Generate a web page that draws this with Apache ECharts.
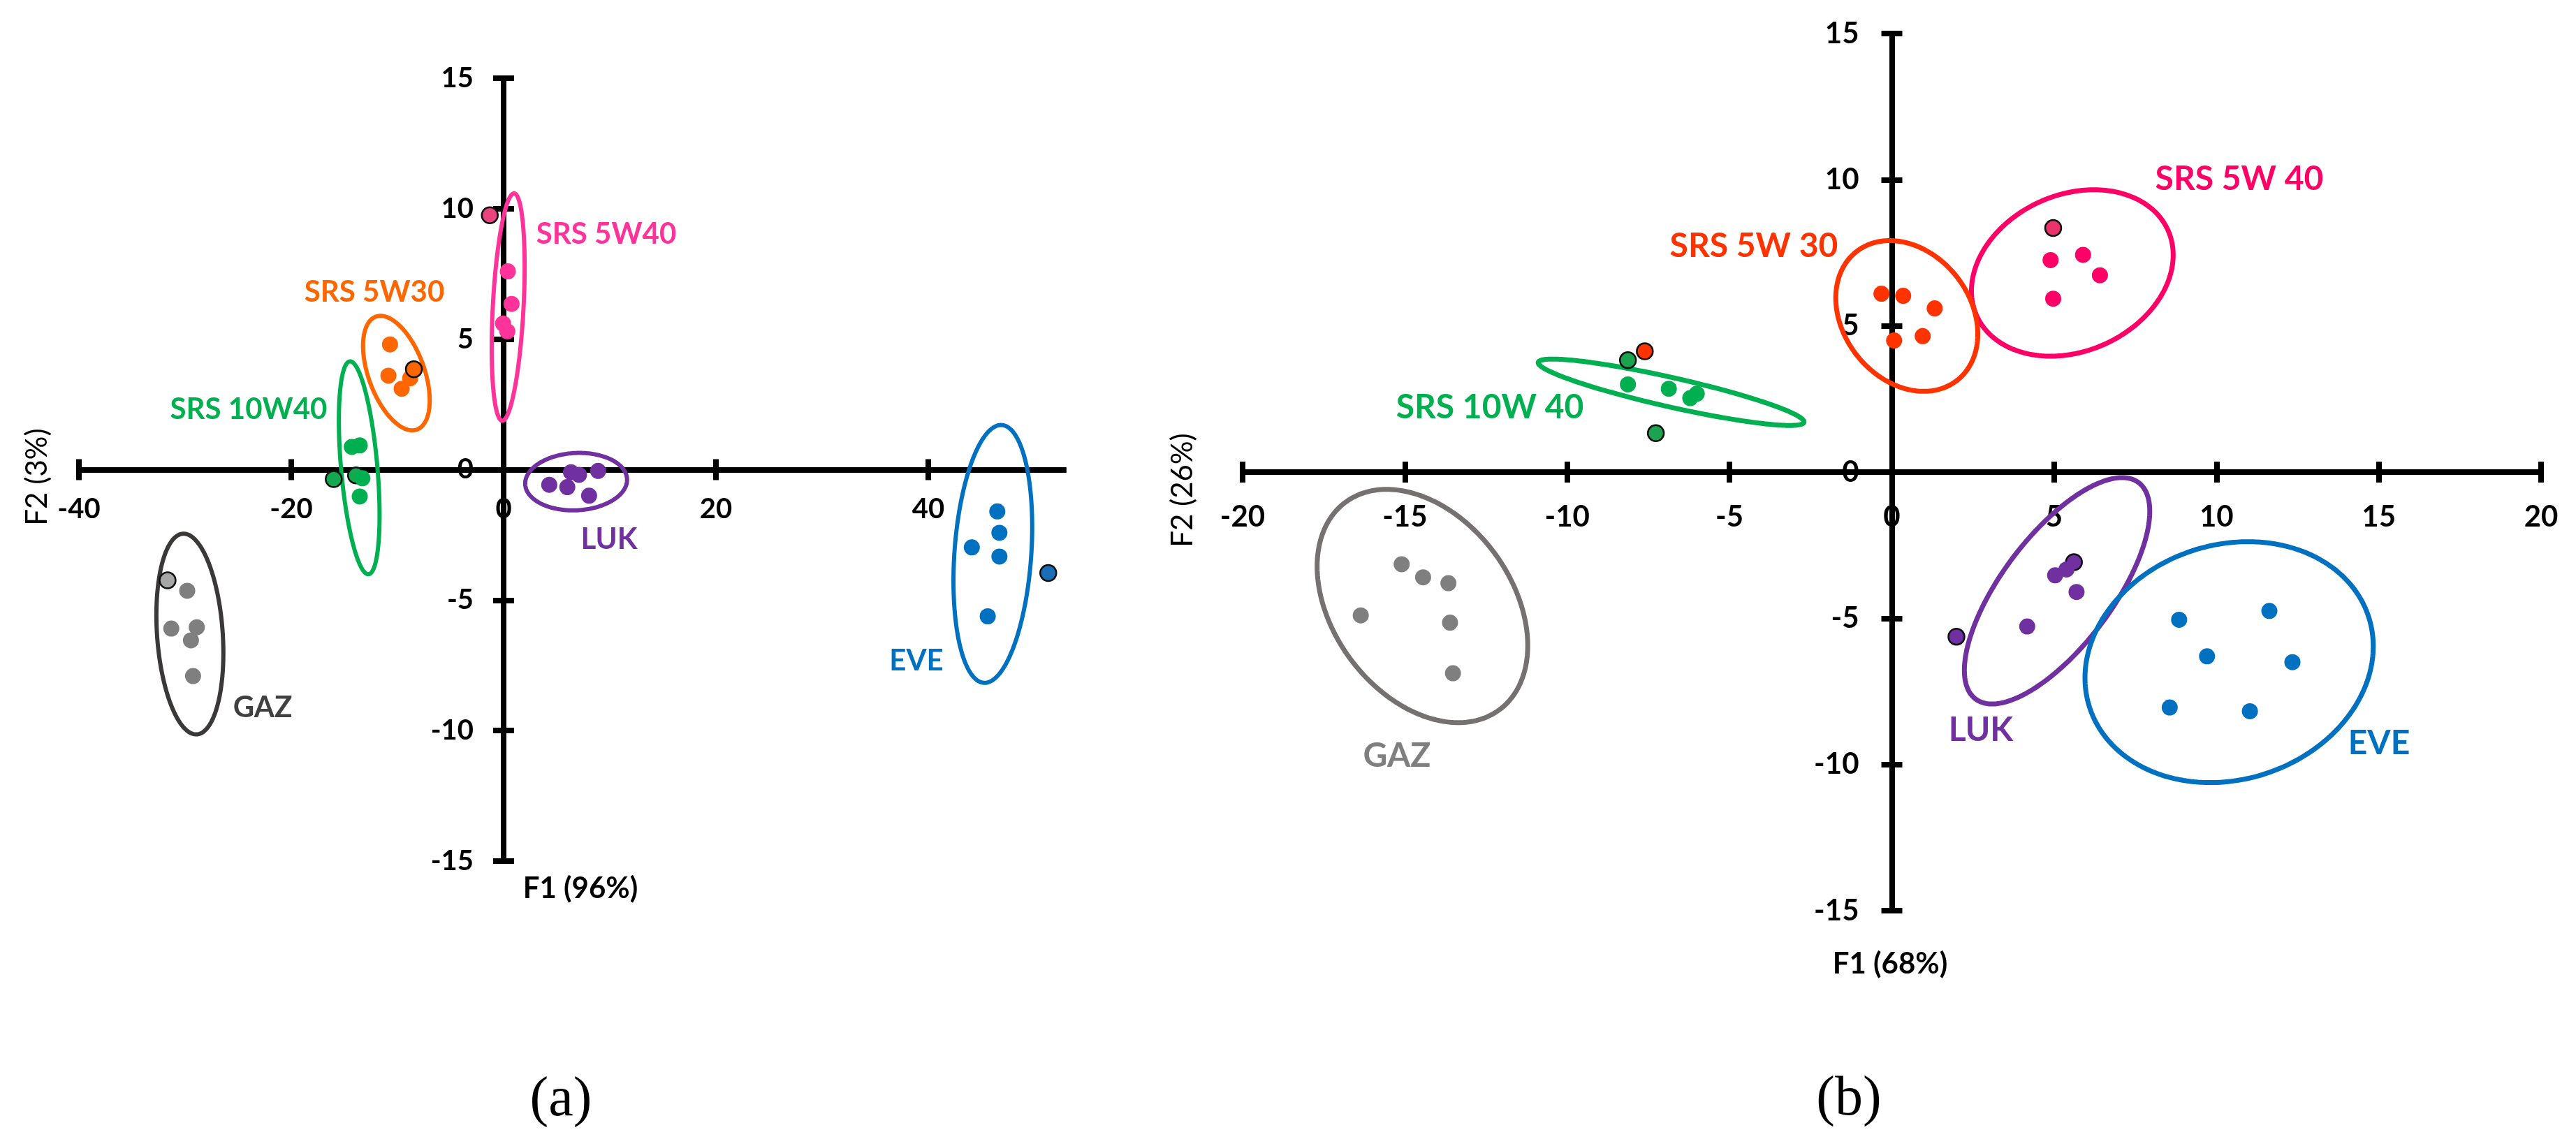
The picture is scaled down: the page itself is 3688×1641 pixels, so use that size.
<!DOCTYPE html>
<html>
<head>
<meta charset="utf-8">
<script src="https://cdn.jsdelivr.net/npm/echarts@6/dist/echarts.min.js"></script>
<style>
html,body{margin:0;padding:0;background:#fff;}
#chart{width:3688px;height:1641px;}
</style>
</head>
<body>
<div id="chart"></div>
<script>
// ---------------- DATA ----------------
// Panel (a): F1 (96%) x F2 (3%)
const leftXTicks = [-40, -20, 0, 20, 40];
const leftYTicks = [-15, -10, -5, 0, 5, 10, 15];
const leftXRange = [-40, 53];
const leftYRange = [-15, 15];

const aSRS5W40  = [[-1.3, 9.75], [0.4, 7.6], [0.75, 6.35], [-0.05, 5.6], [0.35, 5.3]];
const aSRS5W30  = [[-10.7, 4.8], [-10.85, 3.6], [-9.6, 3.1], [-8.8, 3.5], [-8.45, 3.85]];
const aSRS10W40 = [[-14.3, 0.87], [-13.55, 0.93], [-16.0, -0.36], [-13.9, -0.22], [-13.3, -0.33], [-13.55, -1.03]];
const aLUK      = [[4.3, -0.58], [6.0, -0.67], [6.35, -0.1], [7.1, -0.2], [8.9, -0.05], [8.05, -1.0]];
const aGAZ      = [[-31.65, -4.24], [-29.8, -4.64], [-31.3, -6.09], [-28.9, -6.04], [-29.45, -6.54], [-29.25, -7.91]];
const aEVE      = [[46.5, -1.6], [46.7, -2.42], [44.1, -2.98], [46.7, -3.33], [45.6, -5.62], [51.3, -3.96]];
// indices of the circled (outlined) samples
const aSRS5W40Marked = [0];
const aSRS5W30Marked = [4];
const aSRS10W40Marked = [2, 3];
const aLUKMarked = [];
const aGAZMarked = [0];
const aEVEMarked = [5];
// group ellipse centres (data units)
const aEllipseCentres = [[0.43, 6.23], [-10.1, 3.7], [-13.6, 0.07], [6.83, -0.46], [-29.55, -6.3], [46.08, -3.23]];

// Panel (b): F1 (68%) x F2 (26%)
const rightXTicks = [-20, -15, -10, -5, 0, 5, 10, 15, 20];
const rightYTicks = [-15, -10, -5, 0, 5, 10, 15];
const rightXRange = [-20, 20];
const rightYRange = [-15, 15];

const bSRS5W40  = [[4.97, 8.35], [4.89, 7.25], [5.89, 7.43], [6.41, 6.73], [4.97, 5.93]];
const bSRS5W30  = [[-0.32, 6.1], [0.35, 6.03], [1.32, 5.6], [0.07, 4.5], [0.95, 4.65], [-7.61, 4.13]];
const bSRS10W40 = [[-8.13, 3.83], [-8.13, 3.0], [-6.87, 2.85], [-6.21, 2.53], [-6.01, 2.68], [-7.27, 1.33]];
const bLUK      = [[5.61, -3.08], [5.38, -3.33], [5.03, -3.53], [5.69, -4.1], [4.17, -5.28], [1.99, -5.63]];
const bGAZ      = [[-15.1, -3.15], [-14.44, -3.6], [-13.66, -3.8], [-16.36, -4.9], [-13.61, -5.15], [-13.52, -6.88]];
const bEVE      = [[8.85, -5.05], [11.63, -4.75], [9.71, -6.3], [12.34, -6.5], [8.56, -8.05], [11.03, -8.18]];
const bSRS5W40Marked = [0];
const bSRS5W30Marked = [5];
const bSRS10W40Marked = [0, 5];
const bLUKMarked = [0, 5];
const bGAZMarked = [];
const bEVEMarked = [];
const bEllipseCentres = [[5.56, 6.81], [0.46, 5.34], [-6.80, 2.73], [5.09, -4.06], [-14.46, -4.58], [10.39, -6.5]];

// ---------------- STYLE / LAYOUT ----------------
const FONT = 'Lato, "Open Sans", sans-serif';
const colA = {p: '#ff3399', o: '#ff6600', g: '#00b050', u: '#7030a0', k: '#7f7f7f', b: '#0070c0'};
const colB = {p: '#ff0066', o: '#ff3300', g: '#00b050', u: '#7030a0', k: '#7f7f7f', b: '#0070c0'};
const aEllipseShape = [
  {a: 163, b: 22, rot: 3, color: colA.p},
  {a: 86, b: 40, rot: -20, color: colA.o},
  {a: 153, b: 26, rot: -5, color: colA.g},
  {a: 73, b: 41, rot: 87, color: colA.u},
  {a: 144, b: 47, rot: -4, color: '#3b3838'},
  {a: 185, b: 55, rot: 4, color: colA.b}
];
const bEllipseShape = [
  {a: 150, b: 112, rot: 66, color: colB.p},
  {a: 117, b: 91, rot: -38, color: colB.o},
  {a: 195, b: 21, rot: -77.3, color: colB.g},
  {a: 194, b: 79, rot: 37, color: colB.u},
  {a: 185, b: 128, rot: -36.6, color: '#767171'},
  {a: 210, b: 168, rot: 72, color: colB.b}
];

const gridA = {left: 113, top: 112, width: 1413.6, height: 1121};
const gridB = {left: 1779, top: 48, width: 1859, height: 1256};

function pts(data, marked, color, markedFill, xi, yi) {
  return {
    type: 'scatter', xAxisIndex: xi, yAxisIndex: yi, z: 5,
    symbol: 'circle', symbolSize: 23, silent: true,
    itemStyle: {color: color, opacity: 1},
    data: data.map((v, i) => marked.indexOf(i) >= 0
      ? {value: v, itemStyle: {color: markedFill || color, borderColor: '#111', borderWidth: 2.5}}
      : {value: v})
  };
}

function ellipses(centres, shapes, xi, yi, lw) {
  return {
    type: 'custom', xAxisIndex: xi, yAxisIndex: yi, z: 3, silent: true,
    data: centres,
    renderItem: function (params, api) {
      const s = shapes[params.dataIndex];
      const c = api.coord([api.value(0), api.value(1)]);
      const th = s.rot * Math.PI / 180;
      const ux = Math.sin(th), uy = -Math.cos(th);
      const vx = Math.cos(th), vy = Math.sin(th);
      const p = [];
      for (let i = 0; i < 240; i++) {
        const t = i / 240 * Math.PI * 2;
        const ca = s.a * Math.cos(t), sb = s.b * Math.sin(t);
        p.push([c[0] + ca * ux + sb * vx, c[1] + ca * uy + sb * vy]);
      }
      return {type: 'polygon', shape: {points: p}, style: {fill: 'none', stroke: s.color, lineWidth: lw}};
    }
  };
}

// axes are drawn through the zero of the other axis (offset computed from the ranges)
function axisPair(dim, gridIndex, grid, range, otherRange, ticks, fontSize, margin) {
  const size = dim === 'x' ? grid.height : grid.width;
  const fracZero = (0 - otherRange[0]) / (otherRange[1] - otherRange[0]);
  const offPrimary = -size * fracZero;          // from bottom / left edge
  const offSecondary = -size * (1 - fracZero);  // from top / right edge
  const common = {
    type: 'value', gridIndex: gridIndex, min: range[0], max: range[1],
    splitLine: {show: false},
    axisLine: {show: true, onZero: false, lineStyle: {color: '#000', width: 8, cap: 'butt'}},
    axisTick: {show: true, inside: false, length: 15, customValues: ticks, lineStyle: {color: '#000', width: 8}}
  };
  const primary = Object.assign({}, common, {
    position: dim === 'x' ? 'bottom' : 'left', offset: offPrimary,
    axisLabel: {show: true, customValues: ticks, color: '#000', fontFamily: FONT, fontWeight: 'bold',
      fontSize: fontSize, margin: margin}
  });
  const secondary = Object.assign({}, common, {
    position: dim === 'x' ? 'top' : 'right', offset: offSecondary,
    axisLabel: {show: false}
  });
  return [primary, secondary];
}

const leftX = axisPair('x', 0, gridA, leftXRange, leftYRange, leftXTicks, 40, 37);
const leftY = axisPair('y', 0, gridA, leftYRange, leftXRange, leftYTicks, 40, 43);
const rightX = axisPair('x', 1, gridB, rightXRange, rightYRange, rightXTicks, 42, 43);
const rightY = axisPair('y', 1, gridB, rightYRange, rightXRange, rightYTicks, 42, 47);

function txt(text, x, y, color, size, weight, family, rot) {
  return {
    type: 'text', x: x, y: y, rotation: rot || 0, z: 10, silent: true,
    style: {text: text, fill: color, font: (weight || 'bold') + ' ' + size + 'px ' + (family || FONT),
      align: 'center', verticalAlign: 'middle', textAlign: 'center', textVerticalAlign: 'middle'}
  };
}

const option = {
  backgroundColor: '#ffffff',
  animation: false,
  grid: [
    Object.assign({outerBoundsMode: 'none', containLabel: false}, gridA),
    Object.assign({outerBoundsMode: 'none', containLabel: false}, gridB)
  ],
  xAxis: [leftX[0], leftX[1], rightX[0], rightX[1]],
  yAxis: [leftY[0], leftY[1], rightY[0], rightY[1]],
  series: [
    ellipses(aEllipseCentres, aEllipseShape, 0, 0, 6),
    pts(aSRS5W40, aSRS5W40Marked, colA.p, '#e8457f', 0, 0),
    pts(aSRS5W30, aSRS5W30Marked, colA.o, null, 0, 0),
    pts(aSRS10W40, aSRS10W40Marked, colA.g, '#14a850', 0, 0),
    pts(aLUK, aLUKMarked, colA.u, null, 0, 0),
    pts(aGAZ, aGAZMarked, colA.k, '#a6a6a6', 0, 0),
    pts(aEVE, aEVEMarked, colA.b, '#1a6eb8', 0, 0),
    ellipses(bEllipseCentres, bEllipseShape, 2, 2, 7),
    pts(bSRS5W40, bSRS5W40Marked, colB.p, '#e8336b', 2, 2),
    pts(bSRS5W30, bSRS5W30Marked, colB.o, null, 2, 2),
    pts(bSRS10W40, bSRS10W40Marked, colB.g, '#1ca34f', 2, 2),
    pts(bLUK, bLUKMarked, colB.u, null, 2, 2),
    pts(bGAZ, bGAZMarked, colB.k, null, 2, 2),
    pts(bEVE, bEVEMarked, colB.b, null, 2, 2)
  ],
  graphic: [
    // panel (a) labels
    txt('SRS 5W40', 868, 335, colA.p, 42),
    txt('SRS 5W30', 536, 418, colA.o, 42),
    txt('SRS 10W40', 356, 586, colA.g, 42),
    txt('LUK', 872, 772, colA.u, 42),
    txt('GAZ', 376, 1013, '#404040', 42),
    txt('EVE', 1312, 946, colA.b, 42),
    txt('F1 (96%)', 831, 1272, '#000', 42),
    txt('F2 (3%)', 53, 683, '#000', 42, 'normal', FONT, Math.PI / 2),
    txt('(a)', 803, 1576, '#000', 80, 'normal', '"Liberation Serif", "Times New Roman", serif'),
    // panel (b) labels
    txt('SRS 5W 40', 3206, 257, colB.p, 48),
    txt('SRS 5W 30', 2511, 353, colB.o, 48),
    txt('SRS 10W 40', 2133, 584, colB.g, 48),
    txt('GAZ', 2000, 1083, '#7f7f7f', 48),
    txt('LUK', 2836, 1046, colB.u, 48),
    txt('EVE', 3406, 1065, colB.b, 48),
    txt('F1 (68%)', 2706, 1380, '#000', 42),
    txt('F2 (26%)', 1693, 702, '#000', 42, 'normal', FONT, Math.PI / 2),
    txt('(b)', 2647, 1575, '#000', 80, 'normal', '"Liberation Serif", "Times New Roman", serif')
  ]
};

const chart = echarts.init(document.getElementById('chart'), null, {renderer: 'canvas', width: 3688, height: 1641});
chart.setOption(option);
</script>
</body>
</html>
